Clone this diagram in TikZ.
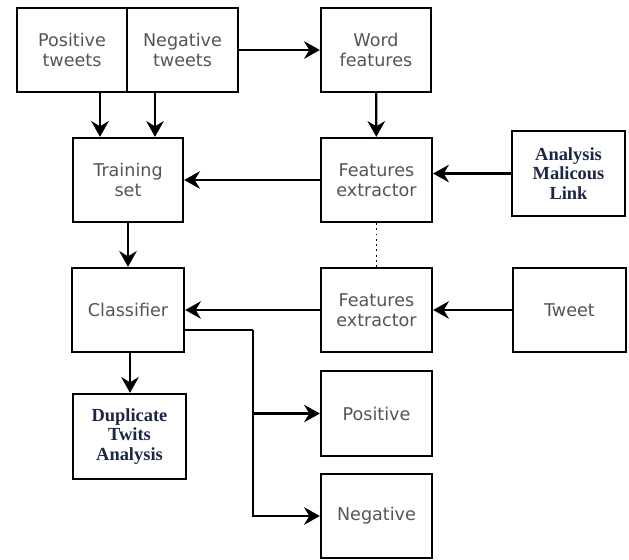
\documentclass[tikz,border=0pt]{standalone}
\usepackage{fontspec}
\setmainfont{DejaVu Sans}
\newfontfamily\titlefont{Liberation Serif}
\usepackage{tikz}
\usetikzlibrary{arrows.meta}

\definecolor{textgray}{RGB}{85,85,85}
\definecolor{inkblue}{RGB}{30,38,70}

\begin{document}
\begin{tikzpicture}[x=0.02cm, y=-0.02cm, > = {Stealth[length=9pt,width=10pt,inset=3pt]}, auto, line width=1.3pt]
            \tikzstyle{block}=[rectangle, draw, line width=1.3pt, minimum width=2.2cm, minimum height=1.68cm, align=center, inner sep=2pt, font=\fontsize{10}{11.5}\selectfont, text=textgray]
            \tikzstyle{sblock}=[block, font=\titlefont\bfseries\fontsize{10.5}{11}\selectfont, text=inkblue]

                \useasboundingbox (0,0) rectangle (629,559);

                % Nós
                \node[block] (pt) at (72,50) {Positive\\tweets};
                \node[block, minimum width=2.22cm] (nt) at (182.5,50) {Negative\\tweets};
                \node[block] (wf) at (376,50) {Word\\features};
                \node[block] (ts) at (128,180) {Training\\set};
                \node[block, minimum width=2.22cm] (fe1) at (376.5,180) {Features\\extractor};
                \node[sblock, minimum width=2.26cm, minimum height=1.7cm] (ml) at (568.5,173.5) {Analysis\\Malicous\\Link};
                \node[block, minimum width=2.24cm] (cl) at (128,310) {Classifier};
                \node[block, minimum width=2.22cm] (fe2) at (376.5,310) {Features\\extractor};
                \node[block, minimum width=2.26cm] (tw) at (569.5,310) {Tweet};
                \node[block, minimum width=2.22cm, minimum height=1.7cm] (po) at (376.5,413.5) {Positive};
                \node[block, minimum width=2.22cm] (ne) at (376.5,516) {Negative};
                \node[sblock, minimum width=2.26cm, minimum height=1.7cm] (dt) at (129.5,436.5) {Duplicate\\Twits\\Analysis};
                \coordinate (br) at (253,330);

                % Arestas
                \draw[->] (pt.south -| 100,0) -- (ts.north -| 100,0);
                \draw[->] (nt.south -| 155,0) -- (ts.north -| 155,0);
                \draw[->] (nt) -- (wf);
                \draw[->] (wf) -- (fe1);
                \draw[->] (fe1) -- (ts);
                \draw[->] (ml) -- (fe1.east |- ml);
                \draw[dotted, line width=1pt] (fe1) -- (fe2);
                \draw[->] (ts) -- (cl);
                \draw[->] (fe2) -- (cl);
                \draw[->] (tw) -- (fe2);
                \draw[->] (cl.south -| 130,0) -- (dt.north -| 130,0);
                \draw (cl.east |- br) -- (br);
                \draw[->] (br) |- (po);
                \draw[->] (br) |- (ne);
        \end{tikzpicture}
\end{document}
